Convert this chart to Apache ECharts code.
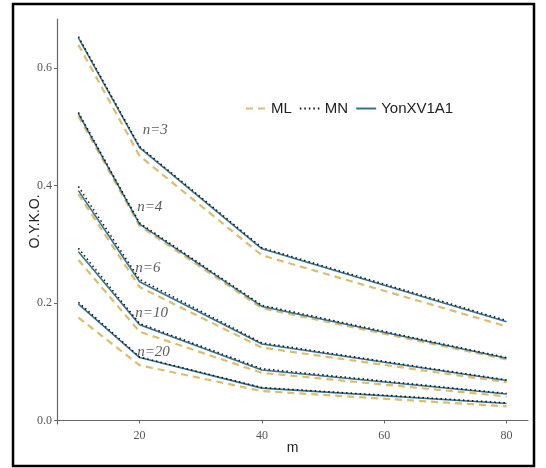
<!DOCTYPE html>
<html style="height: 100%">
<head>
    <meta charset="utf-8">
</head>
<body style="height: 100%; margin: 0; background: #fff">
<div id="container" style="width: 546px; height: 468px"></div>
<script type="text/javascript" src="https://cdn.jsdelivr.net/npm/echarts/dist/echarts.min.js"></script>
<script type="text/javascript">
    // m values on the x axis
    var mValues = [10, 20, 40, 80];
    var nGroups = ['n=3', 'n=4', 'n=6', 'n=10', 'n=20'];

    // one row per n group
    var mlValues = [
        [0.639, 0.450, 0.281, 0.160],
        [0.518, 0.331, 0.191, 0.104],
        [0.385, 0.227, 0.124, 0.065],
        [0.273, 0.151, 0.081, 0.041],
        [0.175, 0.094, 0.050, 0.024]
    ];
    var mnValues = [
        [0.653, 0.466, 0.294, 0.170],
        [0.524, 0.336, 0.196, 0.107],
        [0.398, 0.240, 0.132, 0.069],
        [0.293, 0.165, 0.088, 0.046],
        [0.201, 0.108, 0.056, 0.030]
    ];
    var yonValues = [
        [0.651, 0.464, 0.292, 0.168],
        [0.522, 0.334, 0.194, 0.106],
        [0.391, 0.236, 0.130, 0.068],
        [0.287, 0.163, 0.086, 0.045],
        [0.198, 0.107, 0.055, 0.029]
    ];

    // where the n= annotations sit (data units)
    var labelM = [20.5, 19.6, 19.3, 19.3, 19.6];
    var labelY = [0.494, 0.363, 0.260, 0.183, 0.117];

    var xTicks = [20, 40, 60, 80];
    var yTicks = [0, 0.2, 0.4, 0.6];

    function pairs(vals) {
        return mValues.map(function (m, i) { return [m, vals[i]]; });
    }

    var series = [];
    for (var g = 0; g < nGroups.length; g++) {
        series.push({
            name: 'ML', type: 'line', symbol: 'none', silent: true,
            data: pairs(mlValues[g]),
            lineStyle: {color: '#dcbd6a', width: 2.2, type: [7, 5]},
            itemStyle: {color: '#dcbd6a'}
        });
    }
    for (var g = 0; g < nGroups.length; g++) {
        series.push({
            name: 'YonXV1A1', type: 'line', symbol: 'none', silent: true,
            data: pairs(yonValues[g]),
            lineStyle: {color: '#33738f', width: 1.6, type: 'solid'},
            itemStyle: {color: '#33738f'}
        });
    }
    for (var g = 0; g < nGroups.length; g++) {
        series.push({
            name: 'MN', type: 'line', symbol: 'none', silent: true,
            data: pairs(mnValues[g]),
            lineStyle: {color: '#111', width: 1.5, type: [1.5, 3]},
            itemStyle: {color: '#111'}
        });
    }
    series.push({
        type: 'scatter', symbolSize: 0, silent: true,
        data: nGroups.map(function (t, i) { return {value: [labelM[i], labelY[i]], name: t}; }),
        label: {
            show: true, position: 'right', distance: 0,
            formatter: '{b}',
            fontFamily: 'Liberation Serif', fontStyle: 'italic',
            fontSize: 15, color: '#333'
        }
    });

    var dom = document.getElementById("container");
    var myChart = echarts.init(dom);
    var option = {
        animation: false,
        backgroundColor: '#fff',
        grid: {left: 57, right: 18, top: 19, bottom: 44},
        legend: {
            data: ['ML', 'MN', 'YonXV1A1'],
            left: 240, top: 96,
            itemWidth: 20, itemHeight: 14, itemGap: 7,
            itemStyle: {opacity: 0},
            textStyle: {fontFamily: 'Liberation Sans', fontSize: 15, color: '#222'}
        },
        xAxis: {
            type: 'value', min: 6.5, max: 83.5,
            name: 'm', nameLocation: 'middle', nameGap: 17, nameMoveOverlap: false,
            nameTextStyle: {fontFamily: 'Liberation Sans', fontSize: 14, color: '#222'},
            splitLine: {show: false},
            axisLine: {show: true, lineStyle: {color: '#666', width: 1.2}},
            axisTick: {show: true, customValues: xTicks, length: 3, lineStyle: {color: '#666'}},
            axisLabel: {
                customValues: xTicks, margin: 6,
                fontFamily: 'Liberation Serif', fontSize: 12, color: '#555'
            }
        },
        yAxis: {
            type: 'value', min: -0.006, max: 0.683,
            name: 'O.Y.K.O.', nameLocation: 'middle', nameGap: 15, nameMoveOverlap: false,
            nameTextStyle: {fontFamily: 'Liberation Sans', fontSize: 14, color: '#222'},
            splitLine: {show: false},
            axisLine: {show: true, lineStyle: {color: '#666', width: 1.2}},
            axisTick: {show: true, customValues: yTicks, length: 3, lineStyle: {color: '#666'}},
            axisLabel: {
                customValues: yTicks, margin: 5,
                formatter: function (v) { return v.toFixed(1); },
                fontFamily: 'Liberation Serif', fontSize: 12, color: '#555'
            }
        },
        graphic: [{
            type: 'rect', silent: true,
            shape: {x: 13, y: 4, width: 521, height: 462},
            style: {fill: null, stroke: '#000', lineWidth: 2.5}
        }],
        series: series
    };
    myChart.setOption(option, true);
</script>
</body>
</html>
